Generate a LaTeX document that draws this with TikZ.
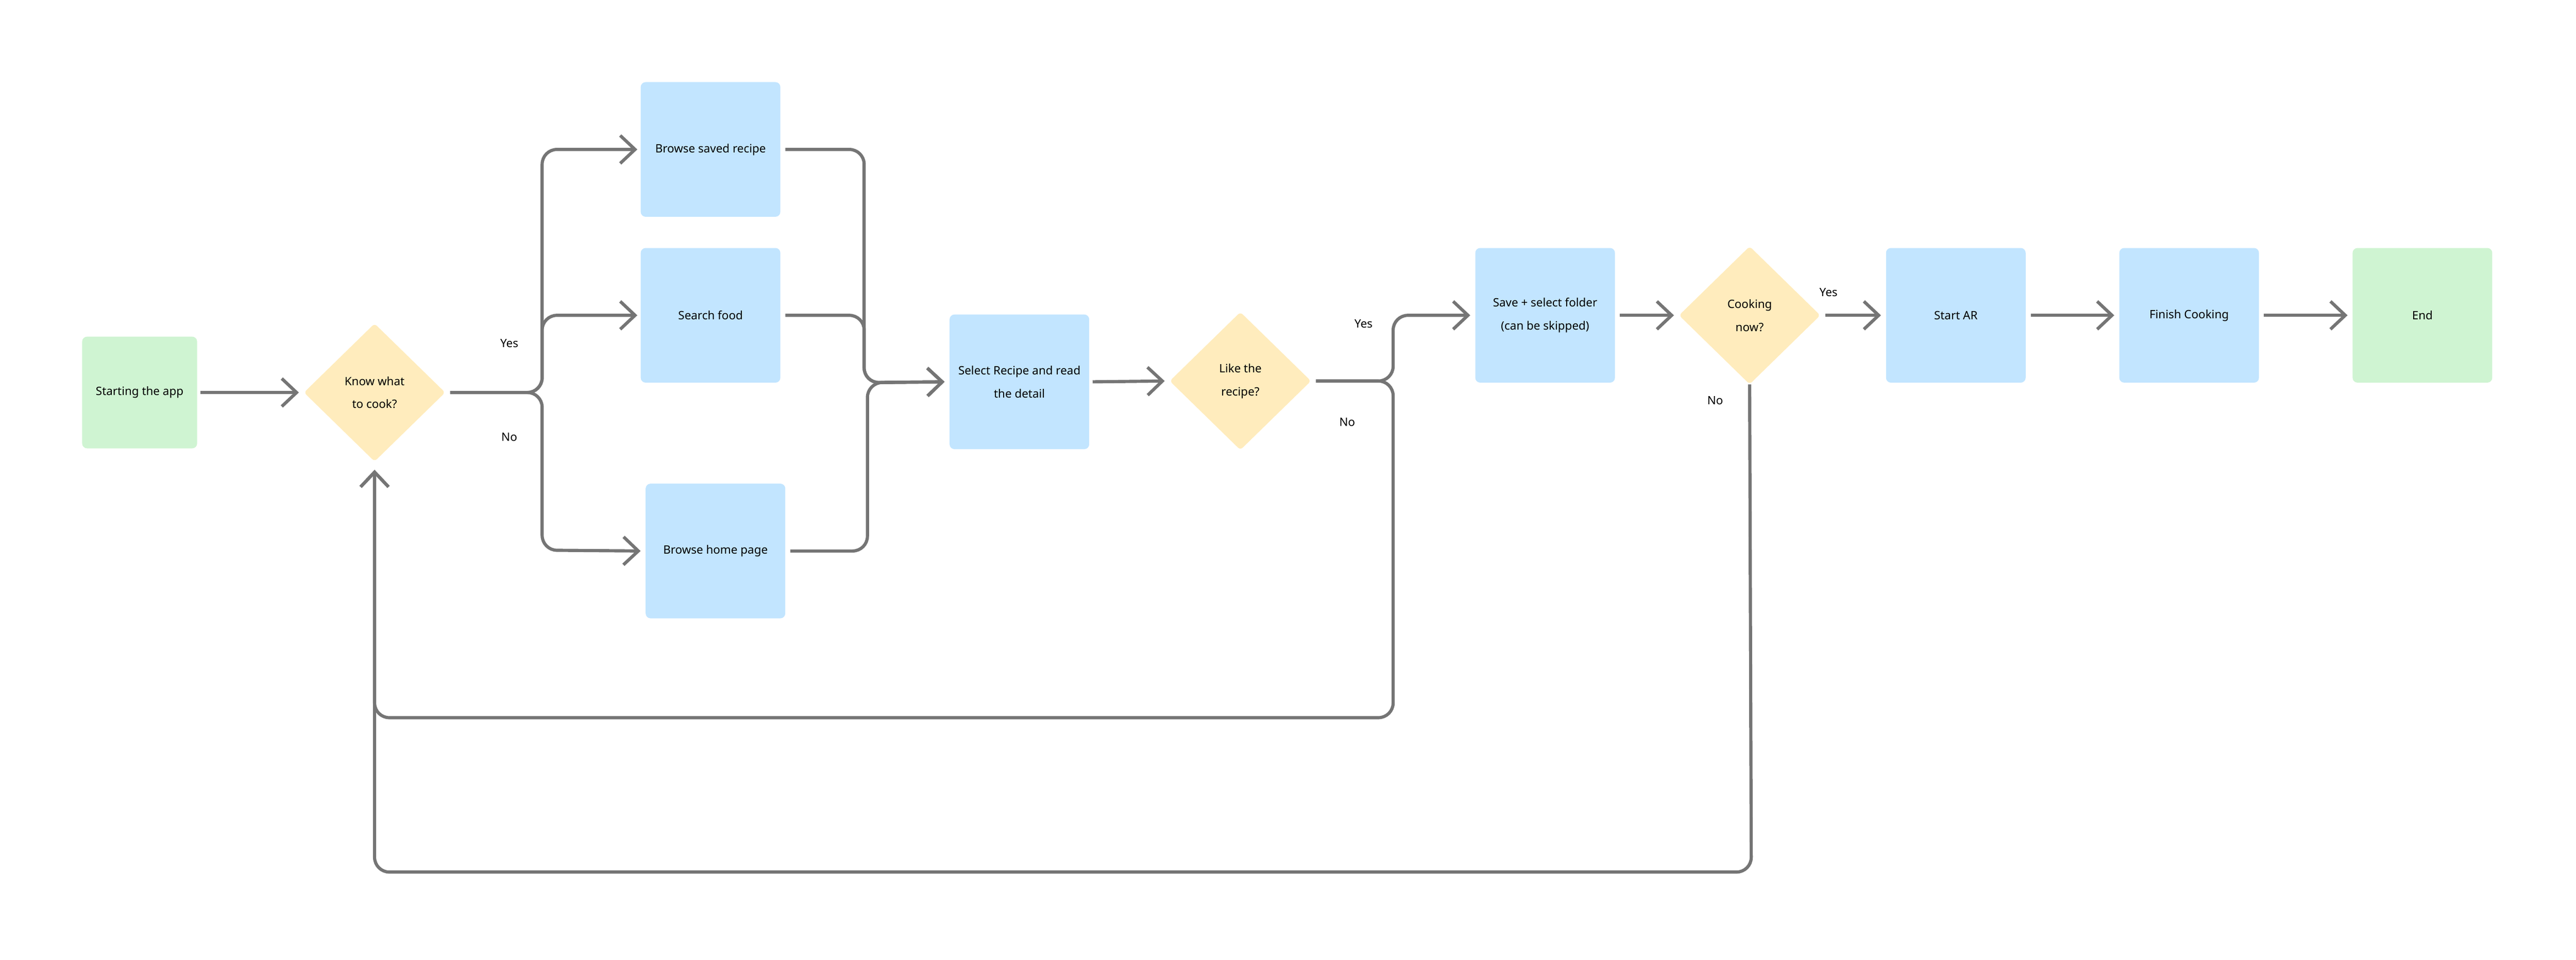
\documentclass[tikz,border=0pt]{standalone}
\usepackage{fontspec}
\setmainfont{Noto Sans}
\usetikzlibrary{shapes.geometric,arrows.meta}
\definecolor{startgreen}{HTML}{CFF4D2}
\definecolor{stepblue}{HTML}{C2E5FF}
\definecolor{askyellow}{HTML}{FFECBD}
\definecolor{linegray}{HTML}{757575}
\tikzset{
	box/.style = {align=center, inner sep=0pt, text centered, font=\fontsize{20}{40}\selectfont, rounded corners=0.3cm},
	startbox/.style = {box, fill=startgreen, minimum width=7cm, minimum height=6.8cm},
	stepbox/.style = {box, fill=stepblue, minimum width=8.5cm, minimum height=8.2cm},
	askbox/.style = {box, diamond, fill=askyellow, minimum width=8.6cm, minimum height=8.4cm, rounded corners=0.2cm},
	flow/.style = {draw=linegray, line width=5.5pt, rounded corners=0.9cm, -{Straight Barb[length=0.9cm,width=1.7cm,line width=5.5pt]}},
	lbl/.style = {font=\fontsize{20}{24}\selectfont}
}
\begin{document}
\begin{tikzpicture}[x=0.1cm, y=-0.1cm]
\useasboundingbox (0,0) rectangle (1568,584.4);
% boxes
\node [startbox] (app) at (85,239) {Starting the app};
\node [askbox] (know) at (228,239) {Know what\\to cook?};
\node [stepbox] (saved) at (432.5,91) {Browse saved recipe};
\node [stepbox] (search) at (432.5,192) {Search food};
\node [stepbox] (home) at (435.5,335.5) {Browse home page};
\node [stepbox] (select) at (620.5,232.5) {Select Recipe and read\\the detail};
\node [askbox] (like) at (755,232) {Like the\\recipe?};
\node [stepbox] (save) at (940.5,192) {Save + select folder\\(can be skipped)};
\node [askbox] (cook) at (1065,192) {Cooking\\now?};
\node [stepbox] (ar) at (1190.5,192) {Start AR};
\node [stepbox] (finish) at (1332.5,192) {Finish Cooking};
\node [startbox, minimum width=8.5cm, minimum height=8.2cm] (end) at (1474.5,192) {End};
% connectors
\draw [flow] ([xshift=0.2cm]app.east) -- ([xshift=-0.3cm]know.west);
\draw [flow] ([xshift=0.3cm]know.east) -| (330,91) -- ([xshift=-0.2cm]saved.west);
\draw [flow] ([xshift=0.3cm]know.east) -| (330,192) -- ([xshift=-0.2cm]search.west);
\draw [flow] ([xshift=0.3cm]know.east) -| (330,335) -- ([xshift=-0.3cm]home.west);
\draw [flow] ([xshift=0.3cm]saved.east) -| (526,233) -- ([xshift=-0.3cm]select.west);
\draw [flow] ([xshift=0.3cm]search.east) -| (526,233) -- ([xshift=-0.3cm]select.west);
\draw [flow] ([xshift=0.3cm]home.east) -| (528,233) -- ([xshift=-0.3cm]select.west);
\draw [flow] ([xshift=0.2cm]select.east) -- ([xshift=-0.3cm]like.west);
\draw [flow] ([xshift=0.3cm]like.east) -| (848,192) -- ([xshift=-0.3cm]save.west);
\draw [flow] ([xshift=0.3cm]like.east) -| (848,437) -| ([yshift=-0.5cm]know.south);
\draw [flow] ([xshift=0.3cm]save.east) -- ([xshift=-0.3cm]cook.west);
\draw [flow] ([xshift=0.3cm]cook.east) -- ([xshift=-0.3cm]ar.west);
\draw [flow] (cook.south) -- (1066,531) -| ([yshift=-0.5cm]know.south);
\draw [flow] ([xshift=0.3cm]ar.east) -- ([xshift=-0.3cm]finish.west);
\draw [flow] ([xshift=0.3cm]finish.east) -- ([xshift=-0.3cm]end.west);
% labels
\node [lbl] (yesknow) at (310,209) {Yes};
\node [lbl] (noknow) at (310,266) {No};
\node [lbl] (yeslike) at (830,197) {Yes};
\node [lbl] (nolike) at (820,257) {No};
\node [lbl] (yescook) at (1113,178) {Yes};
\node [lbl] (nocook) at (1044,244) {No};
\end{tikzpicture}
\end{document}
